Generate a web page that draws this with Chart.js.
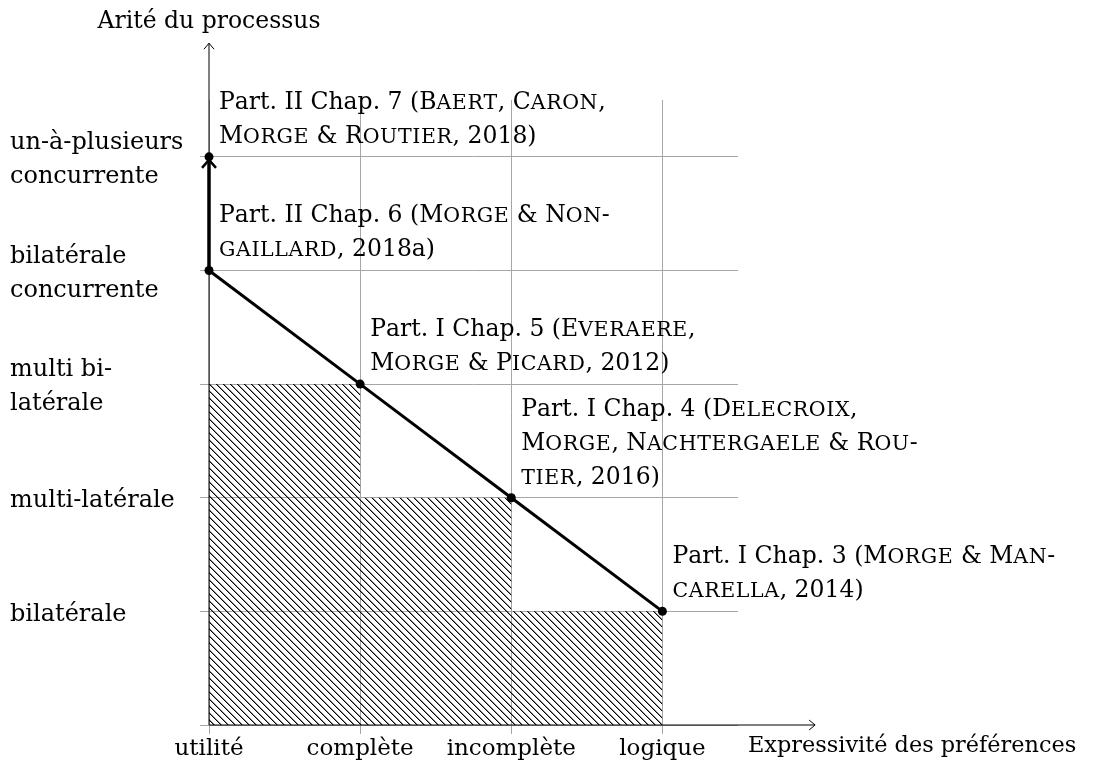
<!DOCTYPE html>
<html>
<head>
<meta charset="utf-8">
<script src="https://cdn.jsdelivr.net/npm/chart.js@4.4.1/dist/chart.umd.min.js"></script>
<style>
html, body { margin: 0; background: #fff; }
</style>
</head>
<body>
<canvas id="chart" width="1094" height="760"></canvas>
<script>
// categories on each axis
const xLabels = ["utilité", "complète", "incomplète", "logique"];
const yLabels = [
  ["bilatérale"],
  ["multi-latérale"],
  ["multi bi-", "latérale"],
  ["bilatérale", "concurrente"],
  ["un-à-plusieurs", "concurrente"]
];
const xTitle = "Expressivité des préférences";
const yTitle = "Arité du processus";

// thick path through the chapters
const pathX = [3, 2, 1, 0];
const pathY = [1, 2, 3, 4];
// last step drawn as an arrow
const arrowX = [0, 0];
const arrowY = [4, 5];
// hatched staircase under the path
const hatchX = [0, 1, 2, 3];
const hatchY = [3, 2, 1, 1];

// notes next to each point ({...} = small caps)
const noteX = [3, 2, 1, 0, 0];
const noteY = [1, 2, 3, 4, 5];
const notes = [
  ["Part. I Chap. 3 ({Morge} & {Man}-", "{carella}, 2014)"],
  ["Part. I Chap. 4 ({Delecroix},", "{Morge}, {Nachtergaele} & {Rou}-", "{tier}, 2016)"],
  ["Part. I Chap. 5 ({Everaere},", "{Morge} & {Picard}, 2012)"],
  ["Part. II Chap. 6 ({Morge} & {Non}-", "{gaillard}, 2018a)"],
  ["Part. II Chap. 7 ({Baert}, {Caron},", "{Morge} & {Routier}, 2018)"]
];

const FONT = '"DejaVu Serif", serif';
const SIZE = 23.5;
const LINE = 34;

function pts(xs, ys) {
  return xs.map((x, i) => ({ x: x, y: ys[i] }));
}

function hatch() {
  const c = document.createElement("canvas");
  c.width = 7;
  c.height = 7;
  const g = c.getContext("2d");
  g.fillStyle = "#000";
  for (let i = 0; i < 7; i++) g.fillRect(i, i, 1, 1);
  g.fillStyle = "rgba(0,0,0,0.45)";
  for (let i = 0; i < 7; i++) g.fillRect((i + 1) % 7, i, 1, 1);
  return g.createPattern(c, "repeat");
}

// draws a line of text, {...} parts in (wide) small caps
function drawRich(ctx, str, x, y) {
  const big = SIZE + "px " + FONT;
  const small = (SIZE * 0.84) + "px " + FONT;
  const stretch = 1.04;
  let sc = false;
  for (const part of str.split(/([{}])/)) {
    if (part === "{") { sc = true; continue; }
    if (part === "}") { sc = false; continue; }
    for (const ch of part) {
      const low = sc && ch !== ch.toUpperCase();
      if (low) {
        const t = ch.toUpperCase();
        ctx.font = small;
        const w = ctx.measureText(t).width * stretch;
        ctx.save();
        ctx.translate(x, y);
        ctx.scale(stretch, 1);
        ctx.fillText(t, 0, 0);
        ctx.restore();
        x += w + 0.6;
      } else {
        ctx.font = big;
        ctx.fillText(ch, x, y);
        x += ctx.measureText(ch).width;
      }
    }
  }
}

const extras = {
  id: "extras",
  afterDatasetsDraw(chart) {
    const ctx = chart.ctx;
    const xs = chart.scales.x, ys = chart.scales.y;
    const x0 = xs.getPixelForValue(0), y0 = ys.getPixelForValue(0);
    const xEnd = xs.getPixelForValue(4.01), yEnd = ys.getPixelForValue(6);
    ctx.save();

    // axes with thin arrow tips
    ctx.strokeStyle = "#000";
    ctx.lineWidth = 1;
    ctx.beginPath();
    ctx.moveTo(x0, y0); ctx.lineTo(xEnd, y0);
    ctx.moveTo(xEnd - 6, y0 - 5); ctx.lineTo(xEnd, y0); ctx.lineTo(xEnd - 6, y0 + 5);
    ctx.moveTo(x0, y0); ctx.lineTo(x0, yEnd);
    ctx.moveTo(x0 - 5, yEnd + 6); ctx.lineTo(x0, yEnd); ctx.lineTo(x0 + 5, yEnd + 6);
    ctx.stroke();

    // arrow head of the last step
    const ax = xs.getPixelForValue(arrowX[1]), ay = ys.getPixelForValue(arrowY[1]);
    ctx.lineWidth = 2.5;
    ctx.beginPath();
    ctx.moveTo(ax - 7, ay + 11); ctx.lineTo(ax, ay + 3); ctx.lineTo(ax + 7, ay + 11);
    ctx.stroke();

    // axis titles
    ctx.fillStyle = "#000";
    ctx.textBaseline = "alphabetic";
    ctx.textAlign = "center";
    ctx.font = "23.5px " + FONT;
    ctx.fillText(yTitle, x0, 28);
    ctx.textAlign = "left";
    ctx.font = "22.4px " + FONT;
    ctx.fillText(xTitle, xs.getPixelForValue(3.5) + 10, 752);

    // notes
    notes.forEach((lines, i) => {
      const px = xs.getPixelForValue(noteX[i]) + 10;
      const py = ys.getPixelForValue(noteY[i]) - 14;
      lines.forEach((ln, j) => {
        drawRich(ctx, ln, px, py - (lines.length - 1 - j) * LINE);
      });
    });
    ctx.restore();
  }
};

new Chart(
  document.getElementById("chart"),
  {
    type: "scatter",
    data: {
      datasets: [
        {
          data: pts(pathX, pathY),
          showLine: true,
          borderColor: "#000",
          borderWidth: 3,
          pointRadius: 4.5,
          pointBackgroundColor: "#000",
          pointBorderWidth: 0,
          clip: false
        },
        {
          data: pts(arrowX, arrowY),
          showLine: true,
          borderColor: "#000",
          borderWidth: 3.5,
          pointRadius: [0, 4.5],
          pointBackgroundColor: "#000",
          pointBorderWidth: 0,
          clip: false
        },
        {
          data: pts(hatchX, hatchY),
          showLine: true,
          stepped: "before",
          fill: "origin",
          backgroundColor: hatch(),
          borderColor: "transparent",
          pointRadius: 0
        }
      ]
    },
    options: {
      responsive: false,
      animation: false,
      events: [],
      layout: { padding: { left: 10, top: 100, right: 356, bottom: 0 } },
      plugins: { legend: { display: false }, tooltip: { enabled: false } },
      scales: {
        x: {
          type: "linear",
          min: 0,
          max: 3.5,
          afterFit: s => { s.height = 35; },
          border: { display: false },
          grid: { color: "#a6a6a6", lineWidth: 1, tickLength: 9, tickColor: "#a6a6a6" },
          ticks: {
            stepSize: 1,
            includeBounds: false,
            autoSkip: false,
            maxRotation: 0,
            padding: -1,
            color: "#000",
            font: { family: FONT, size: 23, lineHeight: 1.4 },
            callback: v => xLabels[v] ?? ""
          }
        },
        y: {
          type: "linear",
          min: 0,
          max: 5.5,
          afterFit: s => { s.width = 199; },
          border: { display: false },
          grid: { color: "#a6a6a6", lineWidth: 1, tickLength: 9, tickColor: "#a6a6a6" },
          ticks: {
            stepSize: 1,
            includeBounds: false,
            autoSkip: false,
            crossAlign: "far",
            labelOffset: 3,
            color: "#000",
            font: { family: FONT, size: 24, lineHeight: 34 / 24 },
            callback: v => (v > 0 ? yLabels[v - 1] : "")
          }
        }
      }
    },
    plugins: [extras]
  }
);
</script>
</body>
</html>
